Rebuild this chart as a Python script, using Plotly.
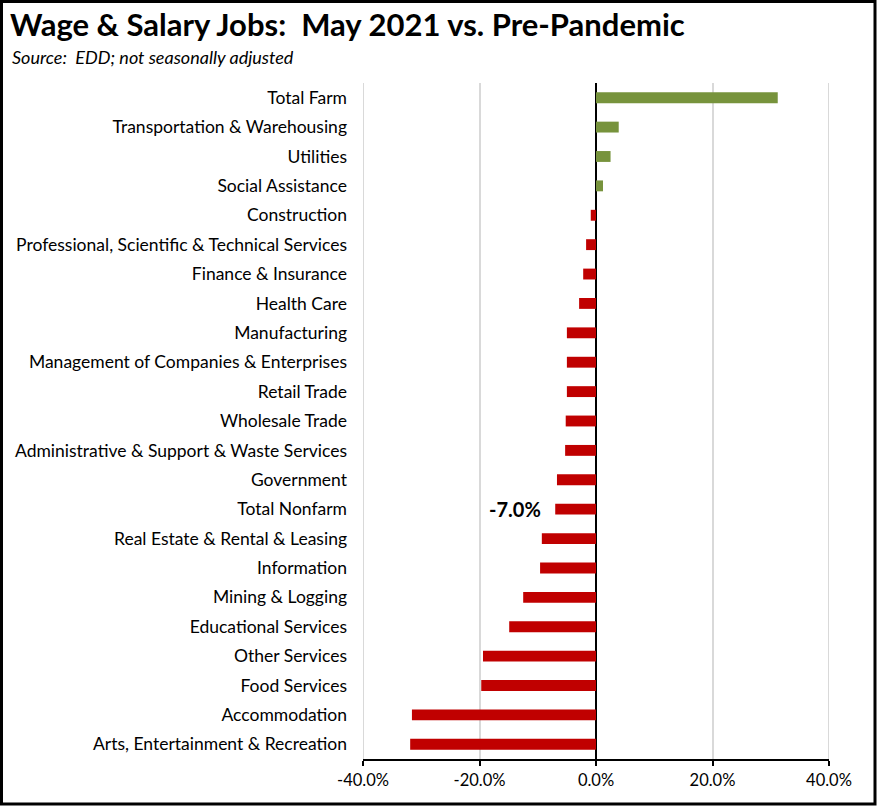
import plotly.graph_objects as go

categories = [
    "Total Farm", "Transportation & Warehousing", "Utilities", "Social Assistance",
    "Construction", "Professional, Scientific & Technical Services", "Finance & Insurance",
    "Health Care", "Manufacturing", "Management of Companies & Enterprises", "Retail Trade",
    "Wholesale Trade", "Administrative & Support & Waste Services", "Government",
    "Total Nonfarm", "Real Estate & Rental & Leasing", "Information", "Mining & Logging",
    "Educational Services", "Other Services", "Food Services", "Accommodation",
    "Arts, Entertainment & Recreation",
]
values = [
    31.2, 3.9, 2.5, 1.2,
    -0.9, -1.7, -2.2,
    -2.9, -5.0, -5.0, -5.0,
    -5.2, -5.3, -6.7,
    -7.0, -9.3, -9.6, -12.5,
    -14.9, -19.4, -19.7, -31.6,
    -31.9,
]
tick_vals = [-40, -20, 0, 20, 40]
tick_text = ["-40.0%", "-20.0%", "0.0%", "20.0%", "40.0%"]
highlight_label = "Total Nonfarm"

GREEN = "#77933C"
RED = "#C00000"
GRID = "#D9D9D9"
colors = [GREEN if v >= 0 else RED for v in values]

W, H = 877, 806
L, R, T, B = 363, 48, 83, 47
pw, ph = W - L - R, H - T - B

FONT = "Lato"

fig = go.Figure(go.Bar(
    y=categories, x=values, orientation="h",
    marker=dict(color=colors, line=dict(width=0)),
    width=0.37,
))

hv = values[categories.index(highlight_label)]
fig.add_annotation(
    x=hv, y=highlight_label, xref="x", yref="y",
    text="<b>%.1f%%</b>" % hv, showarrow=False,
    xanchor="right", xshift=-12, yshift=0,
    font=dict(family=FONT, size=20, color="#000000"),
)

fig.add_annotation(
    xref="paper", yref="paper",
    x=(10 - L) / pw, y=1 + (T - 57) / ph,
    xanchor="left", yanchor="middle",
    text="<i>Source:\u00a0 EDD; not seasonally adjusted</i>", showarrow=False,
    font=dict(family=FONT, size=18, color="#000000"),
)

# end gridlines (at the range edges)
for tv in (tick_vals[0], tick_vals[-1]):
    fig.add_shape(
        type="line", xref="x", yref="paper", x0=tv, x1=tv, y0=0, y1=1,
        line=dict(color=GRID, width=2), layer="below",
    )

# outer border
fig.add_shape(
    type="rect", xref="paper", yref="paper",
    x0=(1.5 - L) / pw, x1=1 + (R - 2) / pw,
    y0=-(B - 2) / ph, y1=1 + (T - 1.5) / ph,
    line=dict(color="#000000", width=3), layer="above",
)

fig.update_layout(
    width=W, height=H,
    margin=dict(l=L, r=R, t=T, b=B),
    paper_bgcolor="white", plot_bgcolor="white",
    showlegend=False,
    title=dict(
        text="<b>Wage & Salary Jobs:\u00a0 May 2021 vs. Pre-Pandemic</b>",
        x=10 / W, xanchor="left", y=1 - 25 / H, yanchor="middle",
        font=dict(family=FONT, size=31, color="#000000"),
    ),
    font=dict(family=FONT, size=17.5, color="#000000"),
)

fig.update_xaxes(
    range=[-40, 40], tickvals=tick_vals, ticktext=tick_text,
    showgrid=True, gridcolor=GRID, gridwidth=2,
    zeroline=True, zerolinecolor="#000000", zerolinewidth=2.5,
    showline=True, linecolor="#000000", linewidth=2,
    ticks="outside", ticklen=5, tickcolor="#000000", tickwidth=2,
    tickfont=dict(family=FONT, size=16.5, color="#000000"),
    fixedrange=True,
)
fig.update_yaxes(
    categoryorder="array", categoryarray=categories, autorange="reversed",
    showgrid=False, zeroline=False, showline=False,
    ticks="", ticklabelstandoff=15,
    tickfont=dict(family=FONT, size=17.5, color="#000000"),
    fixedrange=True,
)

fig.write_html(
    "out.html",
    config={"displayModeBar": False, "staticPlot": True},
    post_script="document.body.style.margin='0';document.body.style.overflow='hidden';",
)
